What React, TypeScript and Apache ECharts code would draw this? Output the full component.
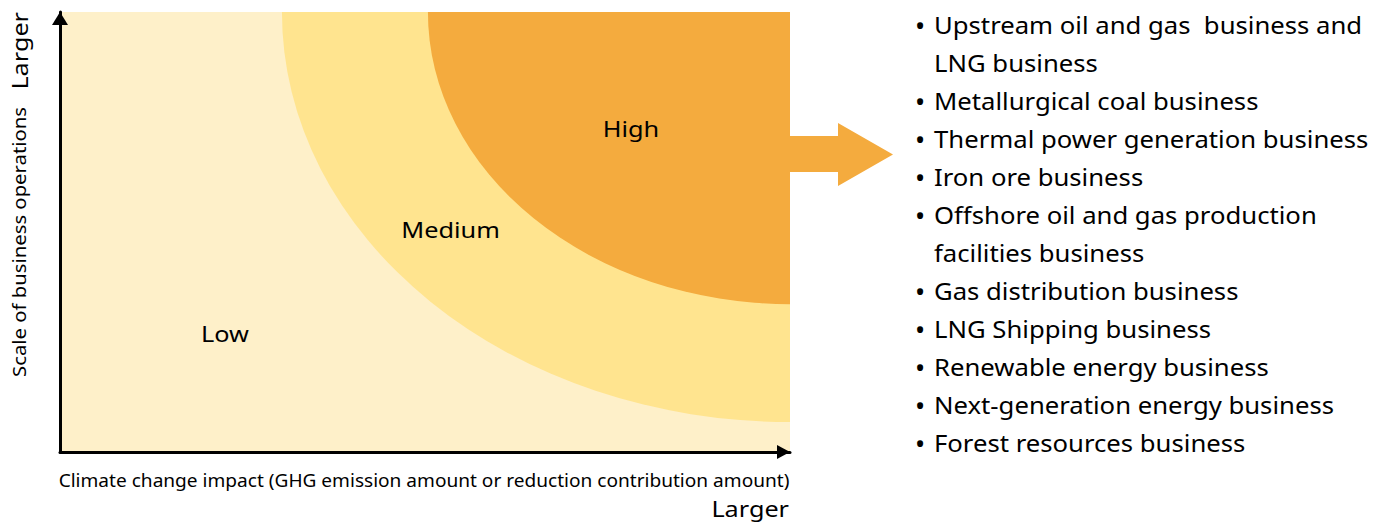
import React, { useEffect, useRef } from "react";
import * as echarts from "echarts";

// Risk zones (quarter ellipses anchored at the top-right corner of the plot)
const regionNames = ["Medium", "High"];
const regionStartX = [30.4, 50.4]; // where the zone meets the top edge (x, 0-100)
const regionStartY = [6.8, 33.6]; // where the zone meets the right edge (y, 0-100)
const regionColors = ["#FFE48F", "#F4AB3E"];

// Zone labels
const zoneLabels = ["Low", "Medium", "High"];
const zoneLabelX = [22.6, 53.5, 78.2];
const zoneLabelY = [26.8, 50.6, 73.6];

const xAxisTitle =
  "Climate change impact (GHG emission amount or reduction contribution amount)";
const yAxisTitle = "Scale of business operations";
const axisEndLabel = "Larger";

const businesses = [
  ["Upstream oil and gas  business and", "LNG business"],
  ["Metallurgical coal business"],
  ["Thermal power generation business"],
  ["Iron ore business"],
  ["Offshore oil and gas production", "facilities business"],
  ["Gas distribution business"],
  ["LNG Shipping business"],
  ["Renewable energy business"],
  ["Next-generation energy business"],
  ["Forest resources business"],
];

const FONT = "'Noto Sans', sans-serif";

export default function App() {
  const ref = useRef<HTMLDivElement>(null);
  useEffect(() => {
    if (!ref.current) return;
    const chart = echarts.init(ref.current, null, { renderer: "svg" });

    const listGraphics: any[] = [];
    let line = 0;
    businesses.forEach((item) => {
      item.forEach((txt, j) => {
        const y = 25 + line * 38;
        if (j === 0) {
          listGraphics.push({
            type: "text",
            x: 920,
            y,
            style: {
              text: "•",
              font: `27px ${FONT}`,
              fill: "#000",
              align: "center",
              verticalAlign: "middle",
            },
          });
        }
        listGraphics.push({
          type: "text",
          x: 934,
          y,
          scaleX: 1.093,
          style: {
            text: txt,
            font: `23.5px ${FONT}`,
            fill: "#000",
            align: "left",
            verticalAlign: "middle",
          },
        });
        line++;
      });
    });

    const axisCommon = {
      type: "value",
      min: 0,
      max: 100,
      axisTick: { show: false },
      axisLabel: { show: false },
      splitLine: { show: false },
    };

    const option: any = {
      animation: false,
      backgroundColor: "#fff",
      grid: {
        left: 60,
        right: 596,
        top: 12,
        bottom: 70,
        show: true,
        backgroundColor: "#FEF0C9",
        borderWidth: 0,
      },
      xAxis: {
        ...axisCommon,
        axisLine: {
          show: true,
          lineStyle: { color: "#000", width: 3 },
          symbol: ["none", "triangle"],
          symbolSize: [14, 13],
          symbolOffset: [0, -6.5],
        },
      },
      yAxis: {
        ...axisCommon,
        axisLine: {
          show: true,
          lineStyle: { color: "#000", width: 3 },
          symbol: ["none", "triangle"],
          symbolSize: [16, 13],
          symbolOffset: [0, -6.5],
        },
      },
      series: [
        {
          type: "custom",
          z: 1,
          data: regionNames.map((n, i) => ({
            name: n,
            value: [regionStartX[i], regionStartY[i], i],
          })),
          renderItem: (params: any, api: any) => {
            const corner = api.coord([100, 100]);
            const left = api.coord([api.value(0), 100]);
            const bottom = api.coord([100, api.value(1)]);
            const rx = corner[0] - left[0];
            const ry = bottom[1] - corner[1];
            return {
              type: "sector",
              x: corner[0],
              y: corner[1],
              scaleY: ry / rx,
              shape: {
                cx: 0,
                cy: 0,
                r0: 0,
                r: rx,
                startAngle: Math.PI / 2,
                endAngle: Math.PI,
                clockwise: true,
              },
              style: { fill: regionColors[api.value(2)] },
            };
          },
        },
        {
          type: "custom",
          z: 3,
          data: zoneLabels.map((n, i) => ({
            name: n,
            value: [zoneLabelX[i], zoneLabelY[i], i],
          })),
          renderItem: (params: any, api: any) => {
            const p = api.coord([api.value(0), api.value(1)]);
            return {
              type: "text",
              x: p[0],
              y: p[1],
              scaleX: 1.15,
              style: {
                text: zoneLabels[api.value(2)],
                font: `22px ${FONT}`,
                fill: "#000",
                align: "center",
                verticalAlign: "middle",
              },
            };
          },
        },
      ],
      graphic: [
        {
          type: "polygon",
          shape: {
            points: [
              [790, 136],
              [838, 136],
              [838, 123],
              [893, 154.5],
              [838, 186],
              [838, 172],
              [790, 172],
            ],
          },
          style: { fill: regionColors[1] },
        },
        {
          type: "text",
          x: 424,
          y: 480,
          scaleX: 1.11,
          style: {
            text: xAxisTitle,
            font: `17.2px ${FONT}`,
            fill: "#000",
            align: "center",
            verticalAlign: "middle",
          },
        },
        {
          type: "text",
          x: 789,
          y: 508.5,
          scaleX: 1.2,
          style: {
            text: axisEndLabel,
            font: `21px ${FONT}`,
            fill: "#000",
            align: "right",
            verticalAlign: "middle",
          },
        },
        {
          type: "text",
          x: 20,
          y: 242,
          rotation: Math.PI / 2,
          scaleX: 1.16,
          style: {
            text: yAxisTitle,
            font: `17.5px ${FONT}`,
            fill: "#000",
            align: "center",
            verticalAlign: "middle",
          },
        },
        {
          type: "text",
          x: 20,
          y: 12,
          rotation: Math.PI / 2,
          scaleX: 1.2,
          style: {
            text: axisEndLabel,
            font: `21px ${FONT}`,
            fill: "#000",
            align: "right",
            verticalAlign: "middle",
          },
        },
        ...listGraphics,
      ],
    };
    chart.setOption(option);
    return () => chart.dispose();
  }, []);
  return (
    <div
      ref={ref}
      style={{ position: "fixed", left: 0, top: 0, width: 1386, height: 522 }}
    />
  );
}
